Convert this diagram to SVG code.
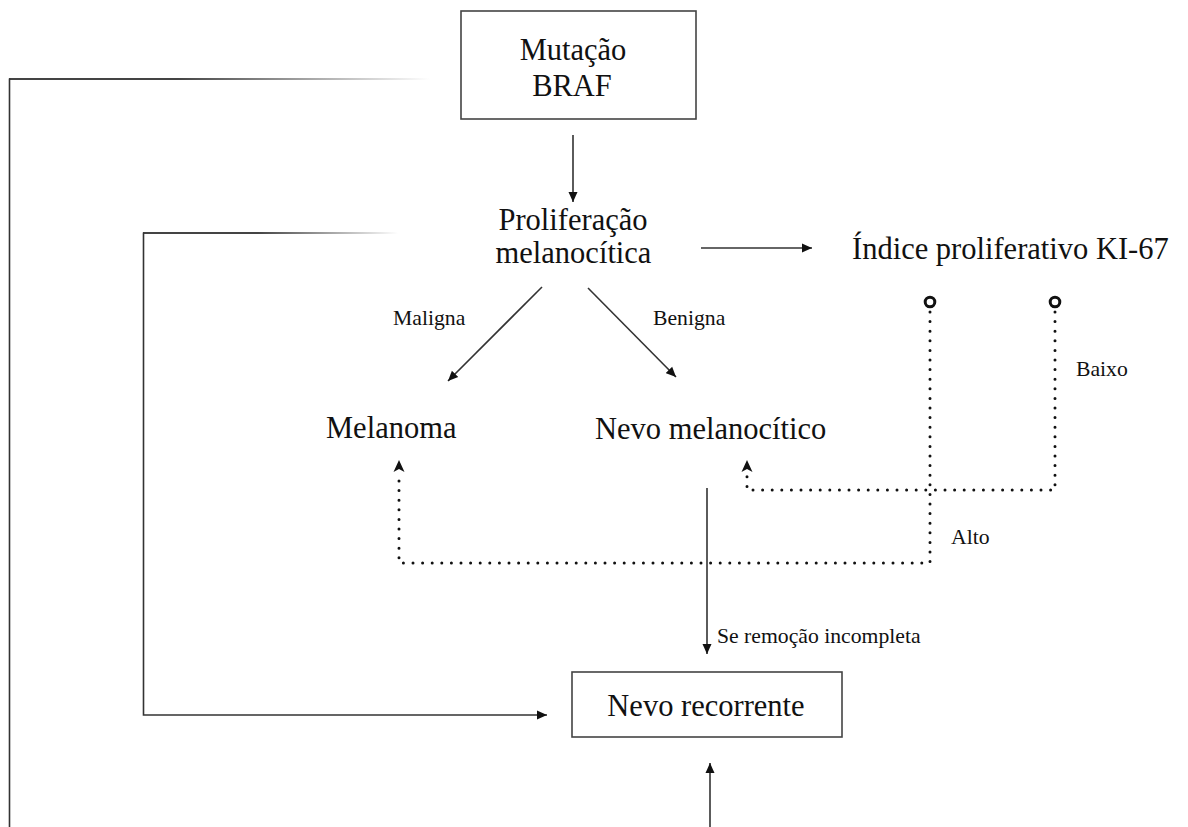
<svg xmlns="http://www.w3.org/2000/svg" width="1188" height="827" viewBox="0 0 1188 827">
<style>
text{font-family:"Liberation Serif","Times New Roman",serif;fill:#111}
.big{font-size:30.5px}
.sm{font-size:21.7px}
.ln{fill:none;stroke:#333;stroke-width:1.6}
.dot{fill:none;stroke:#111;stroke-width:3;stroke-dasharray:0 9.6;stroke-linecap:round}
.box{fill:#fff;stroke:#444;stroke-width:1.6}
</style>
<defs>
<marker id="ah" viewBox="0 0 10 10" refX="10" refY="5" markerWidth="10" markerHeight="10" markerUnits="userSpaceOnUse" orient="auto">
<path d="M0,0.5 L10,5 L0,9.5 z" fill="#111"/>
</marker>
<marker id="ad" viewBox="0 0 12 12" refX="12" refY="6" markerWidth="12" markerHeight="12" markerUnits="userSpaceOnUse" orient="auto">
<path d="M0,0.5 L12,6 L0,11.5 L3,6 z" fill="#111"/>
</marker>
<linearGradient id="f1" gradientUnits="userSpaceOnUse" x1="9" y1="0" x2="430" y2="0">
<stop offset="0.4" stop-color="#444"/><stop offset="1" stop-color="#444" stop-opacity="0"/>
</linearGradient>
<linearGradient id="f2" gradientUnits="userSpaceOnUse" x1="143" y1="0" x2="398" y2="0">
<stop offset="0.45" stop-color="#444"/><stop offset="1" stop-color="#444" stop-opacity="0"/>
</linearGradient>
</defs>
<rect width="1188" height="827" fill="#fff"/>
<g id="connectors">
<line x1="9" y1="79" x2="430" y2="79" stroke="url(#f1)" stroke-width="1.8"/>
<path class="ln" d="M9.5,78.5 V827" stroke="#444" stroke-width="1.8"/>
<line x1="143" y1="233" x2="398" y2="233" stroke="url(#f2)" stroke-width="1.8"/>
<path class="ln" d="M143.5,232.5 V715 H547" stroke="#444" stroke-width="1.8" marker-end="url(#ah)"/>
<path class="ln" d="M573,135 V202" marker-end="url(#ah)"/>
<path class="ln" d="M701,248 H812" marker-end="url(#ah)"/>
<path class="ln" d="M542,287 L448,381" marker-end="url(#ah)"/>
<path class="ln" d="M588,288 L676,377" marker-end="url(#ah)"/>
<path class="ln" d="M707,488 V654" marker-end="url(#ah)"/>
<path class="ln" d="M710,827 V763" marker-end="url(#ah)"/>
<path class="dot" d="M930,312 V563 H399 V474"/>
<path d="M399,474 V460" stroke="none" fill="none" marker-end="url(#ad)"/>
<path class="dot" d="M1055,312 V490 H747 V474"/>
<path d="M747,474 V460" stroke="none" fill="none" marker-end="url(#ad)"/>
<circle cx="930" cy="302" r="4.8" fill="#fff" stroke="#111" stroke-width="3"/>
<circle cx="1055" cy="302" r="4.8" fill="#fff" stroke="#111" stroke-width="3"/>
</g>
<g id="n-braf">
<rect class="box" x="461" y="11" width="235" height="108"/>
<text class="big" x="573" y="60" text-anchor="middle">Mutação</text>
<text class="big" x="572" y="96" text-anchor="middle">BRAF</text>
</g>
<g id="n-prolif">
<text class="big" x="573" y="230" text-anchor="middle">Proliferação</text>
<text class="big" x="573.5" y="263" text-anchor="middle">melanocítica</text>
</g>
<g id="n-ki67">
<text class="big" x="852" y="259">Índice proliferativo KI-67</text>
</g>
<g id="n-melanoma">
<text class="big" x="326" y="438">Melanoma</text>
</g>
<g id="n-nevo">
<text class="big" x="595" y="439">Nevo melanocítico</text>
</g>
<g id="n-recorrente">
<rect class="box" x="572" y="672" width="270" height="65"/>
<text class="big" x="706" y="716" text-anchor="middle">Nevo recorrente</text>
</g>
<g id="labels">
<text class="sm" x="393" y="325">Maligna</text>
<text class="sm" x="653" y="325">Benigna</text>
<text class="sm" x="1076" y="376">Baixo</text>
<text class="sm" x="951" y="544">Alto</text>
<text class="sm" x="717" y="643">Se remoção incompleta</text>
</g>
</svg>
